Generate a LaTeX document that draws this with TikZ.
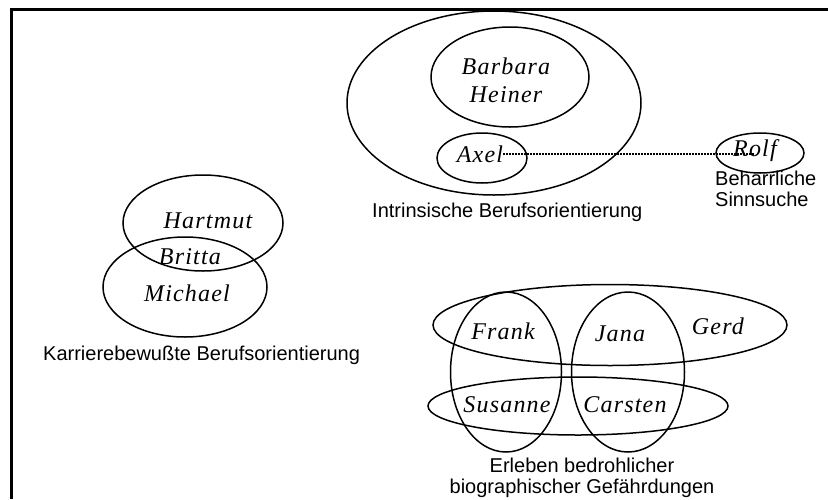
\documentclass[tikz,border=0pt]{standalone}
\usepackage{fontspec}
\setmainfont{Liberation Serif}
\setsansfont{Liberation Sans}
\newfontfamily\namefont{Liberation Serif}[LetterSpace=5]
\usetikzlibrary{shapes.geometric}

\tikzset{
  ring/.style={draw, ellipse, line width=1.5pt, inner sep=0pt},
  person/.style={font=\namefont\itshape\fontsize{24}{28}\selectfont, align=center, inner sep=0pt},
  lbl/.style={font=\sffamily\fontsize{20}{21}\selectfont, align=center, inner sep=0pt},
}

\begin{document}
\begin{tikzpicture}[x=1pt, y=-1pt]
\useasboundingbox (0,0) rectangle (828,499);
\draw[line width=3pt] (11.5,499) -- (11.5,9.5) -- (828,9.5);

% Intrinsische Berufsorientierung
\node[ring, minimum width=294pt, minimum height=184pt] (intr) at (494,103) {};
\node[ring, minimum width=158pt, minimum height=100pt] (barbring) at (510,77) {};
\node[ring, minimum width=90pt, minimum height=50pt] (axelring) at (482,158) {};
\node[person] (barb) at (506,80) {Barbara\\Heiner};
\node[person] (axel) at (480,154) {Axel};
\node[lbl, anchor=west] (intrlbl) at (372,212) {Intrinsische Berufsorientierung};

% Beharrliche Sinnsuche
\node[ring, minimum width=88pt, minimum height=40pt] (rolfring) at (760,153) {};
\node[person] (rolf) at (755,151) {Rolf};
\node[lbl, align=left, anchor=north west, font=\sffamily\fontsize{20}{20.5}\selectfont] (sinnlbl) at (715,171) {Beharrliche\\Sinnsuche};
\draw[line width=1.4pt, dash pattern=on 1.4pt off 1.6pt] (axel.east) -- (axel.east -| rolf.center);

% Karrierebewusste Berufsorientierung
\node[ring, minimum width=160pt, minimum height=96pt] (hartring) at (203,223) {};
\node[ring, minimum width=164pt, minimum height=100pt] (michring) at (185,287) {};
\node[person] (hart) at (208,221) {Hartmut};
\node[person] (britta) at (190,257) {Britta};
\node[person] (mich) at (187,293) {Michael};
\node[lbl, anchor=west] (karrlbl) at (43,355) {Karrierebewußte Berufsorientierung};

% Erleben bedrohlicher biographischer Gefaehrdungen
\node[ring, minimum width=354pt, minimum height=81pt] (gerdring) at (610,325) {};
\node[ring, minimum width=300pt, minimum height=58pt] (susring) at (578,406) {};
\node[ring, minimum width=111pt, minimum height=160pt] (frankring) at (506,372) {};
\node[ring, minimum width=113pt, minimum height=160pt] (janaring) at (628,372) {};
\node[person] (frank) at (503,331) {Frank};
\node[person] (jana) at (620,334) {Jana};
\node[person] (gerd) at (718,326) {Gerd};
\node[person] (sus) at (507,405) {Susanne};
\node[person] (carsten) at (625,405) {Carsten};
\node[lbl] (gefahrlbl) at (582,478) {Erleben bedrohlicher\\biographischer Gefährdungen};
\end{tikzpicture}
\end{document}
